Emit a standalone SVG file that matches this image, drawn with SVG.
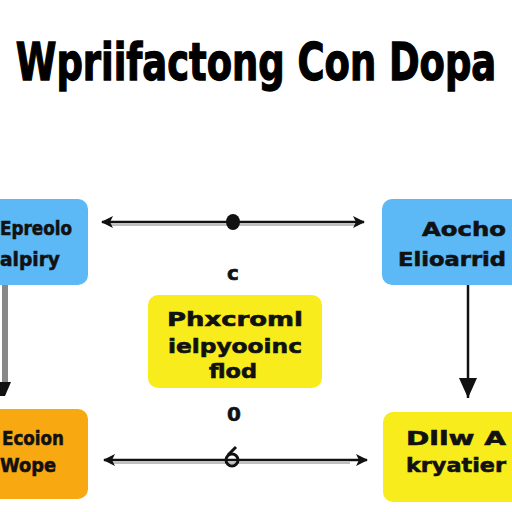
<svg xmlns="http://www.w3.org/2000/svg" width="512" height="512" viewBox="0 0 512 512">
<style>
.lbl{font-family:"DejaVu Sans","Liberation Sans",sans-serif;font-weight:bold;font-size:20px;fill:#111;stroke:#111;stroke-width:0.6}
.ttl{font-family:"DejaVu Sans Condensed","DejaVu Sans",sans-serif;font-weight:bold;font-size:41px;fill:#000;stroke:#000;stroke-width:1}
.ln{stroke:#111;stroke-width:2.5;fill:none}
.sh{stroke:#aaa;stroke-width:1.5;fill:none}
</style>
<defs>
<marker id="ah" viewBox="0 0 12 12" refX="11" refY="6" markerWidth="12" markerHeight="12" markerUnits="userSpaceOnUse" orient="auto-start-reverse">
<path d="M0,0 L12,6 L0,12 L3,6 Z" fill="#111"/>
</marker>
<marker id="tri" viewBox="0 0 18 20" refX="9" refY="20" markerWidth="18" markerHeight="20" markerUnits="userSpaceOnUse" orient="0">
<path d="M0,0 L18,0 L9,20 Z" fill="#111"/>
</marker>
</defs>
<rect width="512" height="512" fill="#fff"/>
<text class="ttl" transform="translate(256,80) scale(1,1.25)" x="0" y="0" text-anchor="middle">Wpriifactong Con Dopa</text>

<g id="connectors">
<line class="sh" x1="110" y1="225" x2="358" y2="225"/>
<line class="ln" x1="102" y1="222" x2="364" y2="222" marker-start="url(#ah)" marker-end="url(#ah)"/>
<ellipse cx="233" cy="222" rx="7" ry="8" fill="#111"/>
<rect x="2" y="285" width="6" height="100" fill="#888"/>
<path d="M0,382 L11,382 L5,396 L0,396 Z" fill="#111"/>
<line class="ln" x1="468" y1="285" x2="468" y2="398" stroke-width="3.5" marker-end="url(#tri)"/>
<line class="sh" x1="112" y1="463" x2="350" y2="463"/>
<line class="ln" x1="104" y1="460" x2="367" y2="460" marker-start="url(#ah)" marker-end="url(#ah)"/>
<circle cx="232" cy="460" r="6" fill="none" stroke="#111" stroke-width="3"/>
<path d="M228,455 L236,447" stroke="#111" stroke-width="3"/>
</g>

<g id="node-top-left">
<rect x="-12" y="199" width="100" height="86" rx="10" fill="#5cb9f5"/>
<text class="lbl" x="36" y="235" text-anchor="middle" textLength="72" lengthAdjust="spacingAndGlyphs">Epreolo</text>
<text class="lbl" x="30" y="266" text-anchor="middle" textLength="60" lengthAdjust="spacingAndGlyphs">alpiry</text>
</g>

<g id="node-top-right">
<rect x="382" y="199" width="142" height="86" rx="10" fill="#5cb9f5"/>
<text class="lbl" x="506" y="236" text-anchor="end" textLength="84" lengthAdjust="spacingAndGlyphs">Aocho</text>
<text class="lbl" x="506" y="266" text-anchor="end" textLength="108" lengthAdjust="spacingAndGlyphs">Elioarrid</text>
</g>

<g id="node-center">
<text class="lbl" x="233" y="280" text-anchor="middle" font-size="30" stroke-width="1.5">c</text>
<rect x="148" y="295" width="174" height="93" rx="10" fill="#f8ec1c"/>
<text class="lbl" x="235" y="326" text-anchor="middle" textLength="136" lengthAdjust="spacingAndGlyphs">Phxcroml</text>
<text class="lbl" x="235" y="353" text-anchor="middle" textLength="134" lengthAdjust="spacingAndGlyphs">ielpyooinc</text>
<text class="lbl" x="233" y="378" text-anchor="middle" textLength="48" lengthAdjust="spacingAndGlyphs">flod</text>
<text class="lbl" x="234" y="421" text-anchor="middle" font-size="24">0</text>
</g>

<g id="node-bottom-left">
<rect x="-12" y="409" width="100" height="90" rx="10" fill="#f8a912"/>
<text class="lbl" x="33" y="445" text-anchor="middle" textLength="62" lengthAdjust="spacingAndGlyphs">Ecoion</text>
<text class="lbl" x="28" y="472" text-anchor="middle" textLength="56" lengthAdjust="spacingAndGlyphs">Wope</text>
</g>

<g id="node-bottom-right">
<rect x="383" y="412" width="140" height="90" rx="10" fill="#f8ec1c"/>
<text class="lbl" x="406" y="445" font-size="26" textLength="100" lengthAdjust="spacingAndGlyphs">Dllw A</text>
<text class="lbl" x="406" y="472" textLength="100" lengthAdjust="spacingAndGlyphs">kryatier</text>
</g>
</svg>
